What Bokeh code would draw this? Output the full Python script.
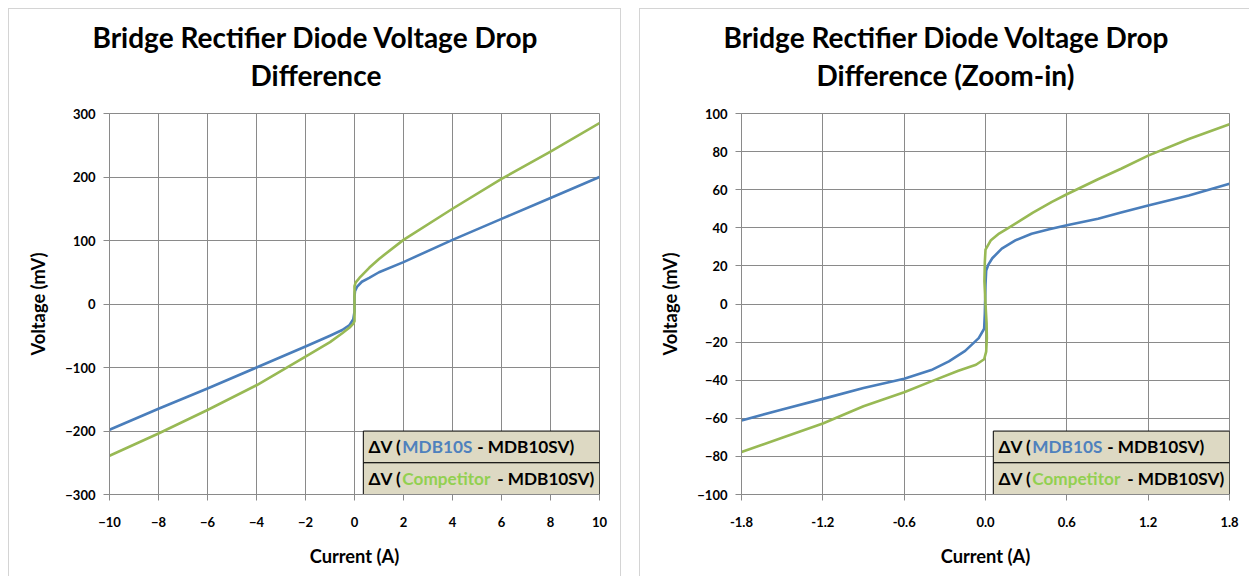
from bokeh.plotting import figure
from bokeh.models import FixedTicker, NumeralTickFormatter, Title, Range1d
from bokeh.layouts import row
from bokeh.embed import file_html
from bokeh.resources import INLINE
from bokeh.core.properties import value

# ---------------- data ----------------
# Full range chart
full_x_ticks = [-10, -8, -6, -4, -2, 0, 2, 4, 6, 8, 10]
full_y_ticks = [-300, -200, -100, 0, 100, 200, 300]
full_blue_x = [-10, -8, -6, -4, -2, -1, -0.5, -0.2, -0.05, 0.0, 0.0, 0.02, 0.1, 0.3, 0.6, 1, 2, 4, 6, 8, 10]
full_blue_y = [-198, -165, -133, -100, -67, -50, -41, -33, -24, -12, 12, 20, 27, 35, 41, 50, 66, 101, 134, 167, 200]
full_green_x = [-10, -8, -6, -4, -2, -1, -0.5, -0.2, -0.05, 0.0, 0.0, 0.0, 0.05, 0.2, 0.6, 1, 2, 4, 6, 8, 10]
full_green_y = [-239, -204, -167, -128, -83, -60, -46, -37, -31, -27, 0, 28, 34, 41, 57, 71, 101, 150, 197, 240, 285]

# Zoom-in chart
zoom_x_ticks = [-1.8, -1.2, -0.6, 0.0, 0.6, 1.2, 1.8]
zoom_y_ticks = [-100, -80, -60, -40, -20, 0, 20, 40, 60, 80, 100]
zoom_blue_x = [-1.8, -1.5, -1.2, -0.9, -0.6, -0.4, -0.27, -0.15, -0.05, -0.01, -0.005, 0.0, 0.005, 0.02, 0.05, 0.12, 0.22, 0.34, 0.47, 0.6, 0.83, 1.0, 1.2, 1.5, 1.8]
zoom_blue_y = [-61.1, -55.4, -49.8, -44.1, -39.2, -34.7, -30.1, -24.6, -17.9, -13.0, -5.0, 10.0, 17.5, 20.5, 24.0, 29.1, 33.4, 36.9, 39.2, 41.3, 44.8, 48.0, 51.7, 57.0, 63.1]
zoom_green_x = [-1.8, -1.5, -1.2, -0.9, -0.6, -0.4, -0.2, -0.07, -0.01, 0.005, 0.01, 0.008, 0.0, -0.008, -0.005, 0.0, 0.04, 0.1, 0.17, 0.25, 0.35, 0.49, 0.6, 0.83, 1.0, 1.2, 1.5, 1.8]
zoom_green_y = [-77.7, -70.2, -62.7, -53.7, -46.3, -40.6, -35.0, -31.9, -29.0, -25.0, -18.0, -10.0, 0.0, 12.0, 22.0, 28.5, 33.5, 37.0, 40.0, 43.5, 48.0, 53.6, 57.6, 65.5, 71.0, 77.9, 86.6, 94.4]

title_line1 = "Bridge Rectifier Diode Voltage Drop"
title_full_line2 = "Difference"
title_zoom_line2 = "Difference (Zoom-in)"
x_label = "Current (A)"
y_label = "Voltage (mV)"
legend_prefix = "ΔV ("
legend_suffix = "- MDB10SV)"
series_names = ["MDB10S", "Competitor"]

# ---------------- style ----------------
FONT = "Lato"
BLUE = "#4A7EBB"
GREEN = "#98B954"
LEG_BLUE = "#4F81BD"
LEG_GREEN = "#92D050"
LEG_BG = "#DDD9C3"
GRID = "#8A8A8A"
PANEL_BORDER = "1px solid #D4D4D4"
H = 568
TOP = 104


def make_panel(width, xr, yr, xticks, yticks, xfmt, line2, bx, by, gx, gy,
               mb_left, mb_right, leg_left_frac, off1, off2, right_border):
    p = figure(width=width, height=H, x_range=Range1d(*xr), y_range=Range1d(*yr),
               output_backend="svg", toolbar_location=None, title=None,
               min_border_left=mb_left, min_border_right=mb_right,
               min_border_top=TOP, min_border_bottom=H - TOP - 381,
               background_fill_color="white", border_fill_color="white",
               outline_line_color=GRID, outline_line_width=1)
    st = {"border-top": PANEL_BORDER, "border-left": PANEL_BORDER, "box-sizing": "border-box"}
    if right_border:
        st["border-right"] = PANEL_BORDER
    p.styles = st

    tstyle = dict(align="left", text_font=FONT, text_font_size="28px",
                  text_font_style="bold", text_color="black")
    p.add_layout(Title(text=line2, standoff=43, offset=off2, **tstyle), "above")
    p.add_layout(Title(text=title_line1, standoff=-39, offset=off1, **tstyle), "above")

    for ax in (p.xaxis[0], p.yaxis[0]):
        ax.axis_line_color = GRID
        ax.major_tick_line_color = GRID
        ax.major_tick_out = 6
        ax.major_tick_in = 0
        ax.minor_tick_line_color = None
        ax.major_label_text_font = FONT
        ax.major_label_text_font_style = "bold"
        ax.major_label_text_font_size = "13px"
        ax.major_label_text_color = "black"
        ax.axis_label_text_font = FONT
        ax.axis_label_text_font_style = "bold"
        ax.axis_label_text_font_size = "18.3px"
        ax.axis_label_text_color = "black"
    p.xaxis.ticker = FixedTicker(ticks=xticks)
    p.yaxis.ticker = FixedTicker(ticks=yticks)
    if xfmt:
        p.xaxis.formatter = NumeralTickFormatter(format=xfmt)
    p.xaxis.axis_label = x_label
    p.yaxis.axis_label = y_label
    p.xaxis.major_label_standoff = 16
    p.yaxis.major_label_standoff = 8
    p.xaxis.axis_label_standoff = 15
    p.yaxis.axis_label_standoff = 13

    p.xgrid.grid_line_color = GRID
    p.ygrid.grid_line_color = GRID
    p.xgrid.ticker = FixedTicker(ticks=xticks)
    p.ygrid.ticker = FixedTicker(ticks=yticks)

    p.line(bx, by, line_width=2.6, line_color=BLUE, line_join="round")
    p.line(gx, gy, line_width=2.6, line_color=GREEN, line_join="round")

    # legend box (two rows) in data coordinates of the lower-right corner
    x0 = xr[0] + leg_left_frac * (xr[1] - xr[0])
    x1 = xr[1]
    ybot = yr[0]
    ytop = yr[0] + 0.1665 * (yr[1] - yr[0])
    ymid = (ybot + ytop) / 2
    p.quad(left=[x0, x0], right=[x1, x1], bottom=[ymid, ybot], top=[ytop, ymid],
           fill_color=LEG_BG, line_color="black", line_width=1)
    rows_y = [(ytop + ymid) / 2, (ymid + ybot) / 2]
    colors = [LEG_BLUE, LEG_GREEN]
    ends = [211, 231]
    for yy, name, col, e in zip(rows_y, series_names, colors, ends):
        common = dict(text_font=value(FONT), text_font_style="bold", text_font_size="17.2px",
                      text_baseline="middle")
        p.text(x=[x0], y=[yy], text=[legend_prefix], text_align="right", x_offset=38,
               text_color="black", **common)
        p.text(x=[x0], y=[yy], text=[name], text_align="left", x_offset=39,
               text_color=col, **common)
        p.text(x=[x0], y=[yy], text=[legend_suffix], text_align="right", x_offset=e,
               text_color="black", **common)
    return p


p1 = make_panel(613, (-10, 10), (-300, 300), full_x_ticks, full_y_ticks, None, title_full_line2,
                full_blue_x, full_blue_y, full_green_x, full_green_y, 100, 23, 0.518, -17, 141, True)
p2 = make_panel(610, (-1.8, 1.8), (-100, 100), zoom_x_ticks, zoom_y_ticks, "0.0", title_zoom_line2,
                zoom_blue_x, zoom_blue_y, zoom_green_x, zoom_green_y, 101, 21, 0.516, -18, 75, False)

layout = row(p1, p2, spacing=18, margin=(8, 0, 0, 8))
open("out.html", "w").write(file_html(layout, INLINE))
